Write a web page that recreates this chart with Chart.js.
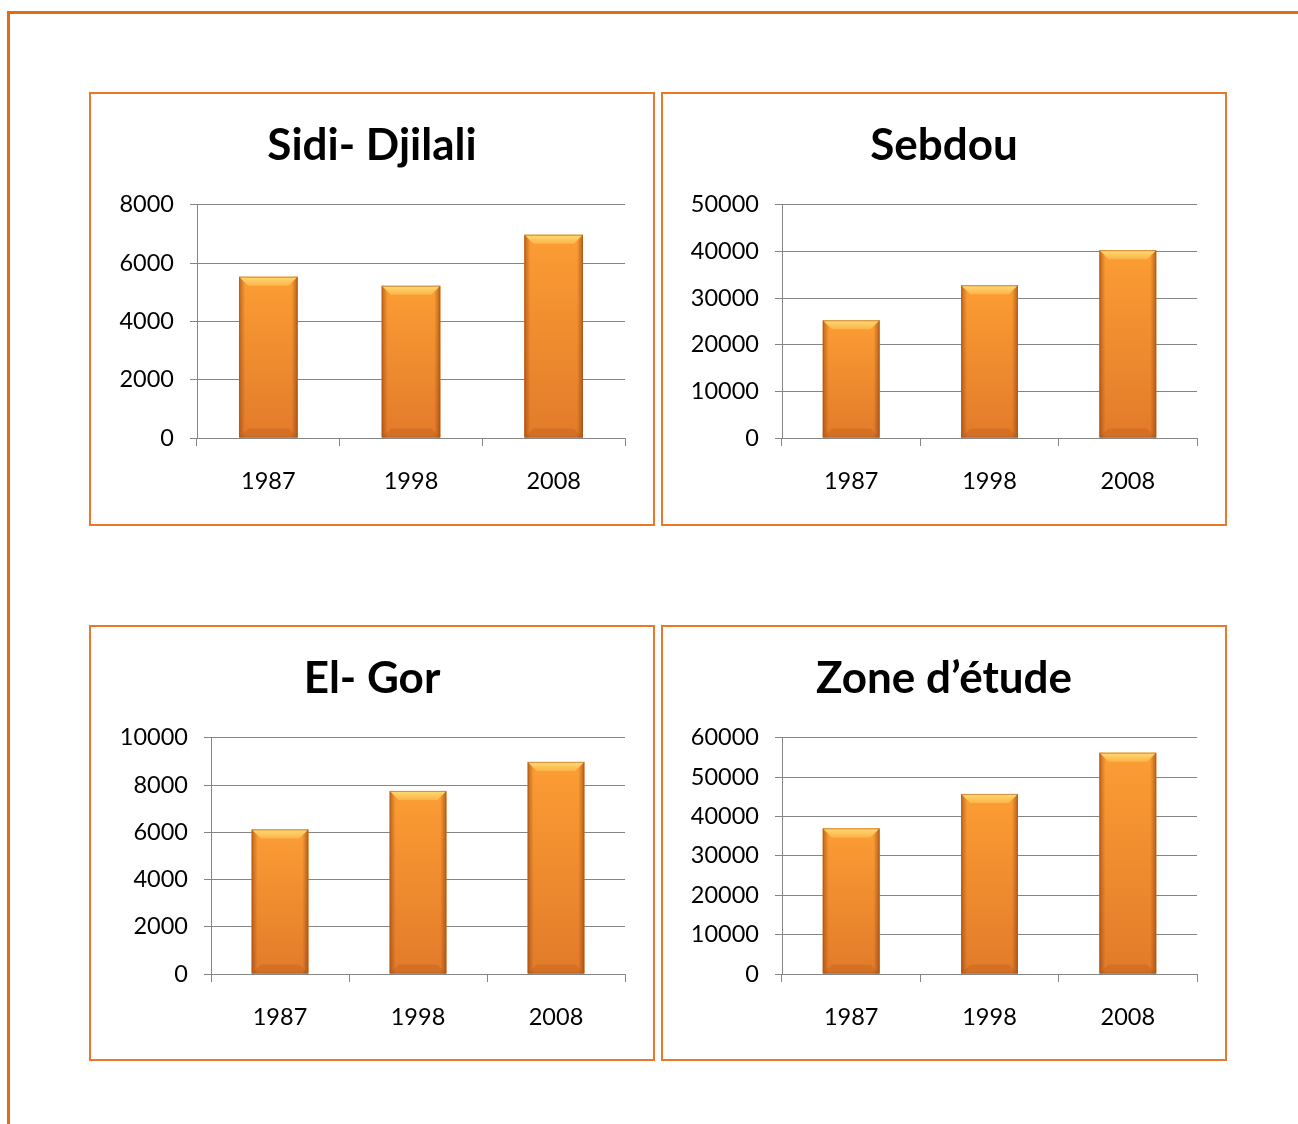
<!DOCTYPE html>
<html>
<head>
<meta charset="utf-8">
<script src="https://cdn.jsdelivr.net/npm/chart.js@4.4.1/dist/chart.umd.min.js"></script>
<style>
  html, body { margin: 0; padding: 0; background: #fff; }
  body { width: 1298px; height: 1124px; position: relative; overflow: hidden; font-family: Lato, sans-serif; }
  .page { position: absolute; left: 7px; top: 11px; width: 1400px; height: 1300px;
          border-left: 3px solid #e06d12; border-top: 3px solid #e06d12; }
  .panel { position: absolute; border: 2px solid #e8792a; background: #fff; }
  .panel canvas { display: block; }
</style>
</head>
<body>
<div class="page"></div>
<div class="panel" style="left:89px;top:92px;"><canvas id="sidiDjilaliChart" width="562" height="430"></canvas></div>
<div class="panel" style="left:661px;top:92px;"><canvas id="sebdouChart" width="562" height="430"></canvas></div>
<div class="panel" style="left:89px;top:625px;"><canvas id="elGorChart" width="562" height="432"></canvas></div>
<div class="panel" style="left:661px;top:625px;"><canvas id="zoneChart" width="562" height="432"></canvas></div>
<script>
const years = ['1987', '1998', '2008'];
const sidiDjilali = [5530, 5220, 6970];
const sebdou = [25230, 32750, 40270];
const elGor = [6120, 7750, 8980];
const zoneEtude = [36990, 45740, 56200];

const titles = ['Sidi- Djilali', 'Sebdou', 'El- Gor', 'Zone d\u2019\u00e9tude'];
const axisMax = [8000, 50000, 10000, 60000];
const axisStep = [2000, 10000, 2000, 10000];

const GRID = '#858585';
const FONT = 'Lato';
const SIDE_PAD = 28;

// bevelled look of the office-style bars, painted over each bar element
const bevelBars = {
    id: 'bevelBars',
    afterDatasetsDraw(chart) {
        const ctx = chart.ctx;
        chart.getDatasetMeta(0).data.forEach(bar => {
            const p = bar.getProps(['x', 'y', 'base', 'width'], true);
            const l = p.x - p.width / 2, r = p.x + p.width / 2;
            const t = p.y, b = p.base, w = p.width, h = b - t;
            ctx.save();
            let g = ctx.createLinearGradient(0, t, 0, b);
            g.addColorStop(0, '#fc9d34');
            g.addColorStop(1, '#e27b2a');
            ctx.fillStyle = g;
            ctx.fillRect(l, t, w, h);

            const e = 6;
            g = ctx.createLinearGradient(l, 0, l + e, 0);
            g.addColorStop(0, 'rgba(140,60,10,0.55)');
            g.addColorStop(1, 'rgba(140,60,10,0)');
            ctx.fillStyle = g;
            ctx.fillRect(l, t, e, h);
            g = ctx.createLinearGradient(r, 0, r - e, 0);
            g.addColorStop(0, 'rgba(140,60,10,0.6)');
            g.addColorStop(1, 'rgba(140,60,10,0)');
            ctx.fillStyle = g;
            ctx.fillRect(r - e, t, e, h);

            const bv = 9;
            ctx.beginPath();
            ctx.moveTo(l, t); ctx.lineTo(r, t);
            ctx.lineTo(r - bv, t + bv); ctx.lineTo(l + bv, t + bv);
            ctx.closePath();
            g = ctx.createLinearGradient(0, t, 0, t + bv);
            g.addColorStop(0, '#fedb74');
            g.addColorStop(1, '#fcb448');
            ctx.fillStyle = g;
            ctx.fill();

            ctx.beginPath();
            ctx.moveTo(l, b); ctx.lineTo(r, b);
            ctx.lineTo(r - bv, b - bv); ctx.lineTo(l + bv, b - bv);
            ctx.closePath();
            ctx.fillStyle = 'rgba(160,75,20,0.22)';
            ctx.fill();

            ctx.strokeStyle = 'rgba(170,85,25,0.55)';
            ctx.lineWidth = 1;
            ctx.strokeRect(l + 0.5, t + 0.5, w - 1, h - 1);
            ctx.restore();
        });
    }
};

function makeChart(id, idx, values, yWidth, xHeight) {
    return new Chart(document.getElementById(id), {
        type: 'bar',
        data: {
            labels: years,
            datasets: [{
                data: values,
                backgroundColor: '#f08a30',
                borderWidth: 0,
                categoryPercentage: 1,
                barPercentage: 0.41
            }]
        },
        options: {
            responsive: false,
            animation: false,
            devicePixelRatio: 1,
            layout: { padding: { top: 0, right: SIDE_PAD, bottom: 0, left: SIDE_PAD }, autoPadding: false },
            plugins: {
                legend: { display: false },
                tooltip: { enabled: false },
                title: {
                    display: true,
                    text: titles[idx],
                    color: '#000',
                    font: { family: FONT, size: 44, weight: 'bold' },
                    padding: { top: 25, bottom: 33 }
                }
            },
            scales: {
                x: {
                    grid: { drawOnChartArea: false, tickLength: 8, color: GRID, offset: true },
                    border: { color: GRID },
                    ticks: { color: '#000', font: { family: FONT, size: 23.5 }, padding: 21 },
                    afterFit(scale) { scale.height = xHeight; }
                },
                y: {
                    min: 0,
                    max: axisMax[idx],
                    ticks: {
                        stepSize: axisStep[idx],
                        color: '#000',
                        font: { family: FONT, size: 23.5 },
                        padding: 16,
                        callback: v => String(v)
                    },
                    grid: { color: GRID, tickLength: 7 },
                    border: { color: GRID },
                    afterFit(scale) { scale.width = yWidth - SIDE_PAD; }
                }
            }
        },
        plugins: [bevelBars]
    });
}

function build() {
    makeChart('sidiDjilaliChart', 0, sidiDjilali, 106, 86);
    makeChart('sebdouChart', 1, sebdou, 119, 86);
    makeChart('elGorChart', 2, elGor, 120, 85);
    makeChart('zoneChart', 3, zoneEtude, 119, 85);
}

Promise.all([
    document.fonts.load('bold 44px Lato'),
    document.fonts.load('23.5px Lato')
]).then(build, build);
</script>
</body>
</html>
